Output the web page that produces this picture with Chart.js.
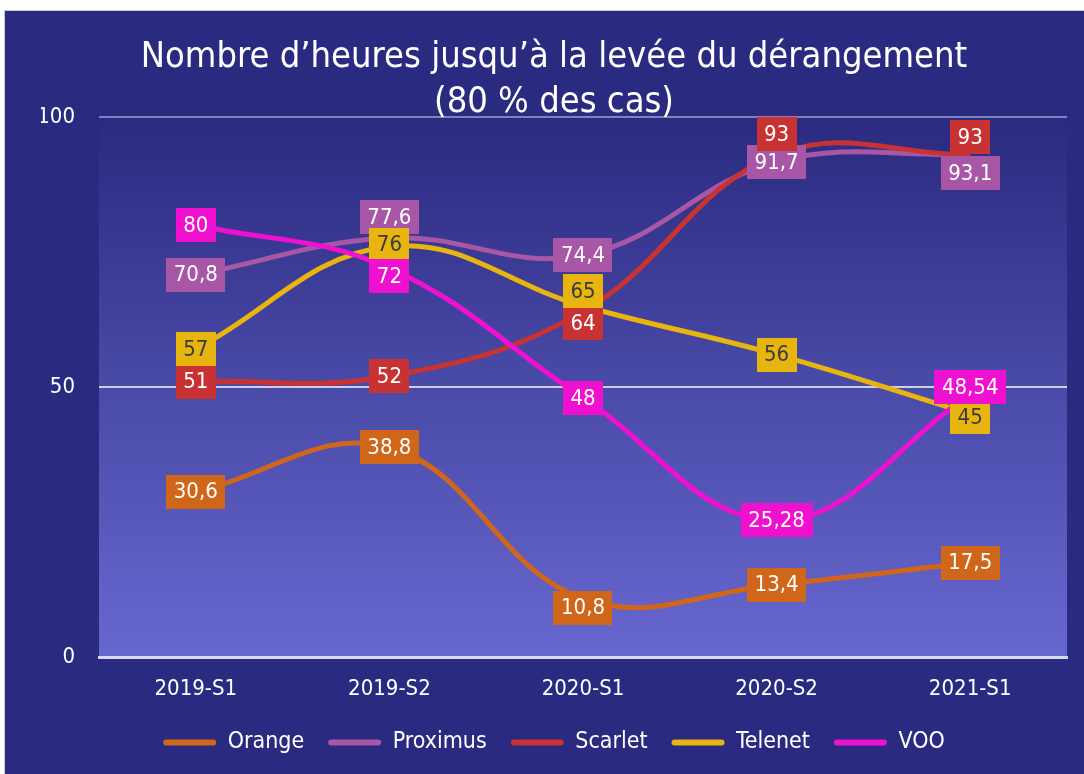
<!DOCTYPE html>
<html>
<head>
<meta charset="utf-8">
<script src="https://cdn.jsdelivr.net/npm/chart.js@4.4.1/dist/chart.umd.min.js"></script>
<style>
  html, body { margin: 0; padding: 0; background: #ffffff; }
  #wrap {
    position: absolute; left: 4px; top: 10px;
    width: 1080px; height: 764px;
    background: #2a2a80;
    border-left: 1px solid #c8c8c8; border-top: 1px solid #c8c8c8;
  }
</style>
</head>
<body>
<div id="wrap"><canvas id="chart"></canvas></div>
<script>
// semesters on the x axis
const periods = ["2019-S1", "2019-S2", "2020-S1", "2020-S2", "2021-S1"];

// hours until the fault is cleared (80 % of cases)
const orange   = [30.6, 38.8, 10.8, 13.4, 17.5];
const proximus = [70.8, 77.6, 74.4, 91.7, 93.1];
const scarlet  = [51, 52, 64, 93, 93];
const telenet  = [57, 76, 65, 56, 45];
const voo      = [80, 72, 48, 25.28, 48.54];

const yTicks = [0, 50, 100];

const FONT = "'DejaVu Sans Condensed', 'DejaVu Sans', sans-serif";

// small vertical nudges (px) so labels don't sit on top of each other, like in the original
const labelNudge = [
    [0, 0, 9, 0, 0],
    [0, -21, 0, 0, 19],
    [0, 0, 12, -21, -18],
    [0, -2, -15, 0, 3],
    [0, 8, 0, 0, -8]
];

function series(label, data, color, order) {
    return {
        label: label,
        data: data,
        borderColor: color,
        backgroundColor: color,
        borderWidth: 5,
        tension: 0.4,
        pointRadius: 0,
        fill: false,
        order: order
    };
}

const plotBackground = {
    id: "plotBackground",
    beforeDraw(chart) {
        const a = chart.chartArea;
        const ctx = chart.ctx;
        const g = ctx.createLinearGradient(0, a.top, 0, a.bottom);
        g.addColorStop(0, "#2a2a80");
        g.addColorStop(0.5, "#4a4aa8");
        g.addColorStop(1, "#6767d0");
        ctx.save();
        ctx.fillStyle = g;
        ctx.fillRect(a.left, a.top, a.right - a.left, a.bottom - a.top);
        ctx.restore();
    }
};

const valueLabels = {
    id: "valueLabels",
    afterDatasetsDraw(chart) {
        const ctx = chart.ctx;
        ctx.save();
        ctx.font = "22px " + FONT;
        ctx.textAlign = "center";
        ctx.textBaseline = "middle";
        chart.data.datasets.forEach(function (ds, di) {
            const meta = chart.getDatasetMeta(di);
            meta.data.forEach(function (pt, i) {
                const text = String(ds.data[i]).replace(".", ",");
                const w = ctx.measureText(text).width + 15;
                const h = 34;
                const x = pt.x;
                const y = pt.y + labelNudge[di][i];
                ctx.fillStyle = ds.borderColor;
                ctx.fillRect(Math.round(x - w / 2), Math.round(y - h / 2), Math.round(w), h);
                ctx.fillStyle = ds.label === "Telenet" ? "#3c3c3c" : "#ffffff";
                ctx.fillText(text, x, y + 1);
            });
        });
        ctx.restore();
    }
};

const ctx = document.getElementById("chart").getContext("2d");

new Chart(ctx, {
    type: "line",
    data: {
        labels: periods,
        datasets: [
            series("Orange", orange, "#d0661a", 5),
            series("Proximus", proximus, "#a856a6", 4),
            series("Scarlet", scarlet, "#c83232", 3),
            series("Telenet", telenet, "#e8b40e", 2),
            series("VOO", voo, "#f010d0", 1)
        ]
    },
    options: {
        responsive: true,
        maintainAspectRatio: false,
        animation: false,
        layout: { padding: { left: 36, right: 18, top: 0, bottom: 11 } },
        plugins: {
            title: {
                display: true,
                text: ["Nombre d\u2019heures jusqu\u2019\u00e0 la lev\u00e9e du d\u00e9rangement", "(80 % des cas)"],
                color: "#ffffff",
                font: { family: FONT, size: 36, weight: "normal", lineHeight: 1.25 },
                padding: { top: 24, bottom: -8 }
            },
            legend: {
                position: "bottom",
                labels: {
                    color: "#ffffff",
                    font: { family: FONT, size: 23 },
                    boxWidth: 53,
                    boxHeight: 6,
                    useBorderRadius: true,
                    borderRadius: 3,
                    padding: 24,
                    sort: (a, b) => a.datasetIndex - b.datasetIndex,
                    generateLabels(chart) {
                        const items = Chart.defaults.plugins.legend.labels.generateLabels(chart);
                        items.forEach(function (it) {
                            it.fillStyle = it.strokeStyle;
                            it.lineWidth = 0;
                        });
                        return items;
                    }
                }
            },
            tooltip: { enabled: false }
        },
        scales: {
            x: {
                offset: true,
                grid: { display: false, drawTicks: false },
                border: { display: true, color: "#d8d8ea", width: 3 },
                ticks: { color: "#ffffff", font: { family: FONT, size: 22 }, padding: 19 },
                afterFit(scale) { scale.height = 50; }
            },
            y: {
                min: 0,
                max: 100,
                afterBuildTicks(scale) { scale.ticks = yTicks.map(v => ({ value: v })); },
                grid: {
                    drawTicks: false,
                    lineWidth: 2,
                    color(c) {
                        if (c.tick.value === 0) return "rgba(0,0,0,0)";
                        if (c.tick.value === 100) return "rgba(200,200,235,0.55)";
                        return "#d0d0e4";
                    }
                },
                border: { display: false },
                ticks: { color: "#ffffff", font: { family: FONT, size: 22 }, padding: 24 },
                afterFit(scale) { scale.width = 58; }
            }
        }
    },
    plugins: [plotBackground, valueLabels]
});
</script>
</body>
</html>
